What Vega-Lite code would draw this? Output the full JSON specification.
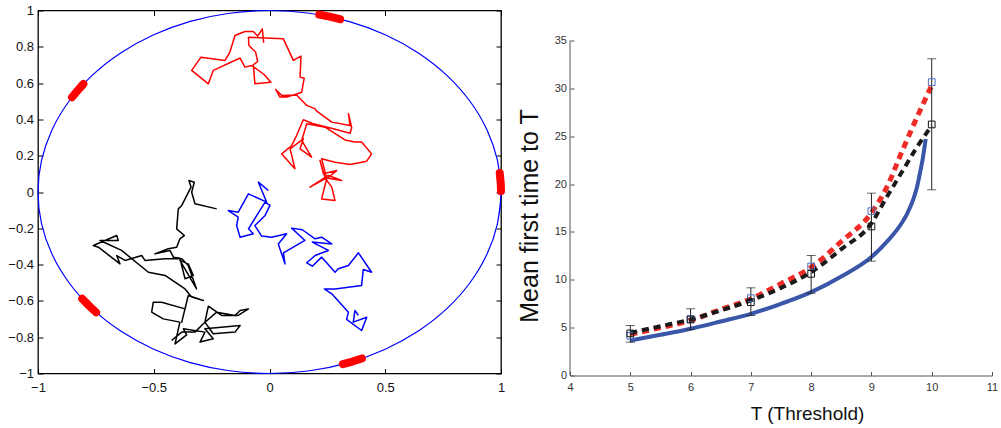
{
  "$schema": "https://vega.github.io/schema/vega-lite/v6.json",
  "background": "white",
  "padding": {"left": 7, "top": 3.5, "right": 3, "bottom": 3},
  "spacing": 11,
  "config": {"font": "Liberation Sans", "view": {"stroke": null}, "axis": {"minExtent": 0}},
  "datasets": {
    "circle": [
      {"a": -10, "x": 0.9848, "y": -0.1736}, {"a": 0, "x": 1, "y": 0}, {"a": 10, "x": 0.9848, "y": 0.1736},
      {"a": 20, "x": 0.9397, "y": 0.342}, {"a": 30, "x": 0.866, "y": 0.5}, {"a": 40, "x": 0.766, "y": 0.6428},
      {"a": 50, "x": 0.6428, "y": 0.766}, {"a": 60, "x": 0.5, "y": 0.866}, {"a": 70, "x": 0.342, "y": 0.9397},
      {"a": 80, "x": 0.1736, "y": 0.9848}, {"a": 90, "x": 0, "y": 1}, {"a": 100, "x": -0.1736, "y": 0.9848},
      {"a": 110, "x": -0.342, "y": 0.9397}, {"a": 120, "x": -0.5, "y": 0.866}, {"a": 130, "x": -0.6428, "y": 0.766},
      {"a": 140, "x": -0.766, "y": 0.6428}, {"a": 150, "x": -0.866, "y": 0.5}, {"a": 160, "x": -0.9397, "y": 0.342},
      {"a": 170, "x": -0.9848, "y": 0.1736}, {"a": 180, "x": -1, "y": 0}, {"a": 190, "x": -0.9848, "y": -0.1736},
      {"a": 200, "x": -0.9397, "y": -0.342}, {"a": 210, "x": -0.866, "y": -0.5}, {"a": 220, "x": -0.766, "y": -0.6428},
      {"a": 230, "x": -0.6428, "y": -0.766}, {"a": 240, "x": -0.5, "y": -0.866}, {"a": 250, "x": -0.342, "y": -0.9397},
      {"a": 260, "x": -0.1736, "y": -0.9848}, {"a": 270, "x": 0, "y": -1}, {"a": 280, "x": 0.1736, "y": -0.9848},
      {"a": 290, "x": 0.342, "y": -0.9397}, {"a": 300, "x": 0.5, "y": -0.866}, {"a": 310, "x": 0.6428, "y": -0.766},
      {"a": 320, "x": 0.766, "y": -0.6428}, {"a": 330, "x": 0.866, "y": -0.5}, {"a": 340, "x": 0.9397, "y": -0.342},
      {"a": 350, "x": 0.9848, "y": -0.1736}, {"a": 360, "x": 1, "y": 0}, {"a": 370, "x": 0.9848, "y": 0.1736}
    ],
    "arcs": [
      {"seg": "A", "o": 1, "x": 0.215, "y": 0.977}, {"seg": "A", "o": 2, "x": 0.259, "y": 0.966}, {"seg": "A", "o": 3, "x": 0.305, "y": 0.952},
      {"seg": "B", "o": 1, "x": -0.853, "y": 0.522}, {"seg": "B", "o": 2, "x": -0.829, "y": 0.559}, {"seg": "B", "o": 3, "x": -0.804, "y": 0.595},
      {"seg": "C", "o": 1, "x": 0.9945, "y": 0.1045}, {"seg": "C", "o": 2, "x": 0.9988, "y": 0.05}, {"seg": "C", "o": 3, "x": 1.0, "y": 0.005},
      {"seg": "D", "o": 1, "x": -0.809, "y": -0.588}, {"seg": "D", "o": 2, "x": -0.78, "y": -0.626}, {"seg": "D", "o": 3, "x": -0.749, "y": -0.663},
      {"seg": "E", "o": 1, "x": 0.317, "y": -0.948}, {"seg": "E", "o": 2, "x": 0.358, "y": -0.934}, {"seg": "E", "o": 3, "x": 0.399, "y": -0.917}
    ],
    "walks": [
      {"walk": "red", "i": 1, "x": -0.025, "y": 0.822}, {"walk": "red", "i": 2, "x": -0.031, "y": 0.899},
      {"walk": "red", "i": 3, "x": -0.051, "y": 0.859}, {"walk": "red", "i": 4, "x": -0.07, "y": 0.884},
      {"walk": "red", "i": 5, "x": -0.106, "y": 0.884}, {"walk": "red", "i": 6, "x": -0.149, "y": 0.862},
      {"walk": "red", "i": 7, "x": -0.171, "y": 0.771}, {"walk": "red", "i": 8, "x": -0.192, "y": 0.725},
      {"walk": "red", "i": 9, "x": -0.296, "y": 0.743}, {"walk": "red", "i": 10, "x": -0.336, "y": 0.67},
      {"walk": "red", "i": 11, "x": -0.264, "y": 0.596}, {"walk": "red", "i": 12, "x": -0.243, "y": 0.67},
      {"walk": "red", "i": 13, "x": -0.127, "y": 0.738}, {"walk": "red", "i": 14, "x": -0.106, "y": 0.688},
      {"walk": "red", "i": 15, "x": -0.077, "y": 0.697}, {"walk": "red", "i": 16, "x": -0.022, "y": 0.646},
      {"walk": "red", "i": 17, "x": 0.006, "y": 0.605}, {"walk": "red", "i": 18, "x": -0.063, "y": 0.596},
      {"walk": "red", "i": 19, "x": -0.07, "y": 0.701}, {"walk": "red", "i": 20, "x": -0.051, "y": 0.719},
      {"walk": "red", "i": 21, "x": -0.06, "y": 0.771}, {"walk": "red", "i": 22, "x": -0.089, "y": 0.807},
      {"walk": "red", "i": 23, "x": -0.091, "y": 0.853}, {"walk": "red", "i": 24, "x": 0.06, "y": 0.844},
      {"walk": "red", "i": 25, "x": 0.103, "y": 0.725}, {"walk": "red", "i": 26, "x": 0.136, "y": 0.749},
      {"walk": "red", "i": 27, "x": 0.132, "y": 0.633}, {"walk": "red", "i": 28, "x": 0.15, "y": 0.627},
      {"walk": "red", "i": 29, "x": 0.139, "y": 0.55}, {"walk": "red", "i": 30, "x": 0.11, "y": 0.537},
      {"walk": "red", "i": 31, "x": 0.074, "y": 0.523}, {"walk": "red", "i": 32, "x": 0.045, "y": 0.523},
      {"walk": "red", "i": 33, "x": 0.027, "y": 0.565}, {"walk": "red", "i": 34, "x": 0.053, "y": 0.532},
      {"walk": "red", "i": 35, "x": 0.117, "y": 0.535}, {"walk": "red", "i": 36, "x": 0.161, "y": 0.477},
      {"walk": "red", "i": 37, "x": 0.197, "y": 0.458}, {"walk": "red", "i": 38, "x": 0.204, "y": 0.445},
      {"walk": "red", "i": 39, "x": 0.269, "y": 0.385}, {"walk": "red", "i": 40, "x": 0.348, "y": 0.366},
      {"walk": "red", "i": 41, "x": 0.341, "y": 0.431}, {"walk": "red", "i": 42, "x": 0.355, "y": 0.354},
      {"walk": "red", "i": 43, "x": 0.348, "y": 0.324}, {"walk": "red", "i": 44, "x": 0.276, "y": 0.348},
      {"walk": "red", "i": 45, "x": 0.189, "y": 0.376}, {"walk": "red", "i": 46, "x": 0.146, "y": 0.398},
      {"walk": "red", "i": 47, "x": 0.117, "y": 0.311}, {"walk": "red", "i": 48, "x": 0.096, "y": 0.256},
      {"walk": "red", "i": 49, "x": 0.053, "y": 0.21}, {"walk": "red", "i": 50, "x": 0.11, "y": 0.128},
      {"walk": "red", "i": 51, "x": 0.089, "y": 0.238}, {"walk": "red", "i": 52, "x": 0.146, "y": 0.293},
      {"walk": "red", "i": 53, "x": 0.132, "y": 0.238}, {"walk": "red", "i": 54, "x": 0.182, "y": 0.192},
      {"walk": "red", "i": 55, "x": 0.139, "y": 0.284}, {"walk": "red", "i": 56, "x": 0.161, "y": 0.376},
      {"walk": "red", "i": 57, "x": 0.24, "y": 0.357}, {"walk": "red", "i": 58, "x": 0.326, "y": 0.287},
      {"walk": "red", "i": 59, "x": 0.369, "y": 0.275}, {"walk": "red", "i": 60, "x": 0.398, "y": 0.275},
      {"walk": "red", "i": 61, "x": 0.441, "y": 0.21}, {"walk": "red", "i": 62, "x": 0.42, "y": 0.17},
      {"walk": "red", "i": 63, "x": 0.348, "y": 0.152}, {"walk": "red", "i": 64, "x": 0.283, "y": 0.164},
      {"walk": "red", "i": 65, "x": 0.225, "y": 0.183}, {"walk": "red", "i": 66, "x": 0.247, "y": 0.078},
      {"walk": "red", "i": 67, "x": 0.175, "y": 0.027}, {"walk": "red", "i": 68, "x": 0.254, "y": 0.091},
      {"walk": "red", "i": 69, "x": 0.312, "y": 0.063}, {"walk": "red", "i": 70, "x": 0.24, "y": 0.078},
      {"walk": "red", "i": 71, "x": 0.218, "y": 0.174}, {"walk": "red", "i": 72, "x": 0.233, "y": 0.1},
      {"walk": "red", "i": 73, "x": 0.29, "y": 0.118}, {"walk": "red", "i": 74, "x": 0.247, "y": 0.073},
      {"walk": "red", "i": 75, "x": 0.225, "y": -0.038}, {"walk": "red", "i": 76, "x": 0.283, "y": -0.047},
      {"walk": "red", "i": 77, "x": 0.269, "y": 0.027}, {"walk": "red", "i": 78, "x": 0.24, "y": 0.078},

      {"walk": "black", "i": 1, "x": -0.228, "y": -0.093}, {"walk": "black", "i": 2, "x": -0.322, "y": -0.065},
      {"walk": "black", "i": 3, "x": -0.336, "y": -0.001}, {"walk": "black", "i": 4, "x": -0.325, "y": 0.054},
      {"walk": "black", "i": 5, "x": -0.348, "y": 0.063}, {"walk": "black", "i": 6, "x": -0.339, "y": 0.027},
      {"walk": "black", "i": 7, "x": -0.379, "y": -0.074}, {"walk": "black", "i": 8, "x": -0.394, "y": -0.093},
      {"walk": "black", "i": 9, "x": -0.401, "y": -0.203}, {"walk": "black", "i": 10, "x": -0.368, "y": -0.24},
      {"walk": "black", "i": 11, "x": -0.387, "y": -0.258}, {"walk": "black", "i": 12, "x": -0.401, "y": -0.304},
      {"walk": "black", "i": 13, "x": -0.437, "y": -0.313}, {"walk": "black", "i": 14, "x": -0.495, "y": -0.341},
      {"walk": "black", "i": 15, "x": -0.43, "y": -0.322}, {"walk": "black", "i": 16, "x": -0.415, "y": -0.359},
      {"walk": "black", "i": 17, "x": -0.387, "y": -0.365}, {"walk": "black", "i": 18, "x": -0.365, "y": -0.478},
      {"walk": "black", "i": 19, "x": -0.329, "y": -0.46}, {"walk": "black", "i": 20, "x": -0.351, "y": -0.396},
      {"walk": "black", "i": 21, "x": -0.387, "y": -0.377}, {"walk": "black", "i": 22, "x": -0.315, "y": -0.534},
      {"walk": "black", "i": 23, "x": -0.351, "y": -0.405}, {"walk": "black", "i": 24, "x": -0.379, "y": -0.368},
      {"walk": "black", "i": 25, "x": -0.451, "y": -0.368}, {"walk": "black", "i": 26, "x": -0.538, "y": -0.377},
      {"walk": "black", "i": 27, "x": -0.552, "y": -0.35}, {"walk": "black", "i": 28, "x": -0.624, "y": -0.377},
      {"walk": "black", "i": 29, "x": -0.66, "y": -0.35}, {"walk": "black", "i": 30, "x": -0.646, "y": -0.396},
      {"walk": "black", "i": 31, "x": -0.739, "y": -0.304}, {"walk": "black", "i": 32, "x": -0.761, "y": -0.295},
      {"walk": "black", "i": 33, "x": -0.66, "y": -0.24}, {"walk": "black", "i": 34, "x": -0.653, "y": -0.267},
      {"walk": "black", "i": 35, "x": -0.732, "y": -0.267}, {"walk": "black", "i": 36, "x": -0.639, "y": -0.322},
      {"walk": "black", "i": 37, "x": -0.523, "y": -0.442}, {"walk": "black", "i": 38, "x": -0.451, "y": -0.46},
      {"walk": "black", "i": 39, "x": -0.365, "y": -0.534}, {"walk": "black", "i": 40, "x": -0.336, "y": -0.579},
      {"walk": "black", "i": 41, "x": -0.286, "y": -0.598}, {"walk": "black", "i": 42, "x": -0.351, "y": -0.57},
      {"walk": "black", "i": 43, "x": -0.379, "y": -0.717}, {"walk": "black", "i": 44, "x": -0.365, "y": -0.644},
      {"walk": "black", "i": 45, "x": -0.466, "y": -0.607}, {"walk": "black", "i": 46, "x": -0.502, "y": -0.607},
      {"walk": "black", "i": 47, "x": -0.509, "y": -0.662}, {"walk": "black", "i": 48, "x": -0.459, "y": -0.699},
      {"walk": "black", "i": 49, "x": -0.387, "y": -0.717}, {"walk": "black", "i": 50, "x": -0.408, "y": -0.837},
      {"walk": "black", "i": 51, "x": -0.358, "y": -0.787}, {"walk": "black", "i": 52, "x": -0.372, "y": -0.754},
      {"walk": "black", "i": 53, "x": -0.279, "y": -0.772}, {"walk": "black", "i": 54, "x": -0.3, "y": -0.827},
      {"walk": "black", "i": 55, "x": -0.243, "y": -0.809}, {"walk": "black", "i": 56, "x": -0.279, "y": -0.754},
      {"walk": "black", "i": 57, "x": -0.127, "y": -0.736}, {"walk": "black", "i": 58, "x": -0.149, "y": -0.772},
      {"walk": "black", "i": 59, "x": -0.243, "y": -0.781}, {"walk": "black", "i": 60, "x": -0.279, "y": -0.717},
      {"walk": "black", "i": 61, "x": -0.264, "y": -0.629}, {"walk": "black", "i": 62, "x": -0.207, "y": -0.68},
      {"walk": "black", "i": 63, "x": -0.135, "y": -0.68}, {"walk": "black", "i": 64, "x": -0.091, "y": -0.644},
      {"walk": "black", "i": 65, "x": -0.127, "y": -0.653}, {"walk": "black", "i": 66, "x": -0.149, "y": -0.68},
      {"walk": "black", "i": 67, "x": -0.228, "y": -0.662}, {"walk": "black", "i": 68, "x": -0.286, "y": -0.726},
      {"walk": "black", "i": 69, "x": -0.322, "y": -0.772}, {"walk": "black", "i": 70, "x": -0.379, "y": -0.772},
      {"walk": "black", "i": 71, "x": -0.423, "y": -0.818},

      {"walk": "blue", "i": 1, "x": -0.005, "y": 0.008}, {"walk": "blue", "i": 2, "x": -0.048, "y": 0.054},
      {"walk": "blue", "i": 3, "x": -0.012, "y": -0.056}, {"walk": "blue", "i": 4, "x": -0.091, "y": -0.01},
      {"walk": "blue", "i": 5, "x": -0.135, "y": -0.111}, {"walk": "blue", "i": 6, "x": -0.178, "y": -0.102},
      {"walk": "blue", "i": 7, "x": -0.135, "y": -0.139}, {"walk": "blue", "i": 8, "x": -0.142, "y": -0.185},
      {"walk": "blue", "i": 9, "x": -0.127, "y": -0.249}, {"walk": "blue", "i": 10, "x": -0.07, "y": -0.23},
      {"walk": "blue", "i": 11, "x": -0.091, "y": -0.203}, {"walk": "blue", "i": 12, "x": -0.019, "y": -0.056},
      {"walk": "blue", "i": 13, "x": 0.002, "y": -0.074}, {"walk": "blue", "i": 14, "x": -0.019, "y": -0.129},
      {"walk": "blue", "i": 15, "x": -0.063, "y": -0.185}, {"walk": "blue", "i": 16, "x": -0.034, "y": -0.243},
      {"walk": "blue", "i": 17, "x": 0.009, "y": -0.249}, {"walk": "blue", "i": 18, "x": 0.074, "y": -0.23},
      {"walk": "blue", "i": 19, "x": 0.038, "y": -0.286}, {"walk": "blue", "i": 20, "x": 0.067, "y": -0.396},
      {"walk": "blue", "i": 21, "x": 0.06, "y": -0.335}, {"walk": "blue", "i": 22, "x": 0.153, "y": -0.267},
      {"walk": "blue", "i": 23, "x": 0.096, "y": -0.199}, {"walk": "blue", "i": 24, "x": 0.142, "y": -0.208},
      {"walk": "blue", "i": 25, "x": 0.197, "y": -0.258}, {"walk": "blue", "i": 26, "x": 0.225, "y": -0.249},
      {"walk": "blue", "i": 27, "x": 0.269, "y": -0.286}, {"walk": "blue", "i": 28, "x": 0.185, "y": -0.276},
      {"walk": "blue", "i": 29, "x": 0.254, "y": -0.322}, {"walk": "blue", "i": 30, "x": 0.197, "y": -0.35},
      {"walk": "blue", "i": 31, "x": 0.161, "y": -0.39}, {"walk": "blue", "i": 32, "x": 0.185, "y": -0.409},
      {"walk": "blue", "i": 33, "x": 0.225, "y": -0.359}, {"walk": "blue", "i": 34, "x": 0.247, "y": -0.39},
      {"walk": "blue", "i": 35, "x": 0.283, "y": -0.442}, {"walk": "blue", "i": 36, "x": 0.297, "y": -0.423},
      {"walk": "blue", "i": 37, "x": 0.341, "y": -0.405}, {"walk": "blue", "i": 38, "x": 0.384, "y": -0.335},
      {"walk": "blue", "i": 39, "x": 0.441, "y": -0.442}, {"walk": "blue", "i": 40, "x": 0.405, "y": -0.427},
      {"walk": "blue", "i": 41, "x": 0.398, "y": -0.515}, {"walk": "blue", "i": 42, "x": 0.283, "y": -0.534},
      {"walk": "blue", "i": 43, "x": 0.237, "y": -0.534}, {"walk": "blue", "i": 44, "x": 0.269, "y": -0.561},
      {"walk": "blue", "i": 45, "x": 0.341, "y": -0.662}, {"walk": "blue", "i": 46, "x": 0.333, "y": -0.702},
      {"walk": "blue", "i": 47, "x": 0.398, "y": -0.763}, {"walk": "blue", "i": 48, "x": 0.42, "y": -0.69},
      {"walk": "blue", "i": 49, "x": 0.362, "y": -0.717}, {"walk": "blue", "i": 50, "x": 0.369, "y": -0.653},
      {"walk": "blue", "i": 51, "x": 0.384, "y": -0.68}
    ],
    "curves": [
      {"s": "theory", "T": 5, "y": 3.66}, {"s": "theory", "T": 5.5, "y": 4.25}, {"s": "theory", "T": 6, "y": 4.88},
      {"s": "theory", "T": 6.5, "y": 5.64}, {"s": "theory", "T": 7, "y": 6.44}, {"s": "theory", "T": 7.5, "y": 7.49},
      {"s": "theory", "T": 8, "y": 8.71}, {"s": "theory", "T": 8.5, "y": 10.34}, {"s": "theory", "T": 9, "y": 12.37},
      {"s": "theory", "T": 9.25, "y": 13.93}, {"s": "theory", "T": 9.5, "y": 15.9}, {"s": "theory", "T": 9.6, "y": 17.0},
      {"s": "theory", "T": 9.7, "y": 18.5}, {"s": "theory", "T": 9.76, "y": 19.8}, {"s": "theory", "T": 9.81, "y": 21.3},
      {"s": "theory", "T": 9.85, "y": 22.6}, {"s": "theory", "T": 9.9, "y": 24.7},
      {"s": "red", "T": 5, "y": 4.3}, {"s": "red", "T": 5.5, "y": 5.0}, {"s": "red", "T": 6, "y": 5.75},
      {"s": "red", "T": 6.5, "y": 6.9}, {"s": "red", "T": 7, "y": 8.0}, {"s": "red", "T": 7.5, "y": 9.6},
      {"s": "red", "T": 8, "y": 11.3}, {"s": "red", "T": 8.5, "y": 14.0}, {"s": "red", "T": 9, "y": 17.0},
      {"s": "red", "T": 9.25, "y": 19.6}, {"s": "red", "T": 9.5, "y": 23.3}, {"s": "red", "T": 9.75, "y": 26.9},
      {"s": "red", "T": 10, "y": 30.3},
      {"s": "black", "T": 5, "y": 4.45}, {"s": "black", "T": 5.5, "y": 5.15}, {"s": "black", "T": 6, "y": 5.85},
      {"s": "black", "T": 6.5, "y": 6.8}, {"s": "black", "T": 7, "y": 7.84}, {"s": "black", "T": 7.5, "y": 9.16},
      {"s": "black", "T": 8, "y": 10.8}, {"s": "black", "T": 8.5, "y": 13.2}, {"s": "black", "T": 9, "y": 15.9},
      {"s": "black", "T": 9.25, "y": 18.6}, {"s": "black", "T": 9.5, "y": 21.2}, {"s": "black", "T": 9.75, "y": 23.8},
      {"s": "black", "T": 10, "y": 26.1}
    ],
    "squares": [
      {"sim": "sim1", "T": 5, "y": 4.15}, {"sim": "sim1", "T": 6, "y": 5.9}, {"sim": "sim1", "T": 7, "y": 8.08},
      {"sim": "sim1", "T": 8, "y": 11.39}, {"sim": "sim1", "T": 9, "y": 17.17}, {"sim": "sim1", "T": 10, "y": 30.65},
      {"sim": "sim2", "T": 5, "y": 4.4}, {"sim": "sim2", "T": 6, "y": 5.85}, {"sim": "sim2", "T": 7, "y": 7.66},
      {"sim": "sim2", "T": 8, "y": 10.62}, {"sim": "sim2", "T": 9, "y": 15.57}, {"sim": "sim2", "T": 10, "y": 26.23}
    ],
    "bars": [
      {"T": 5, "lo": 3.48, "hi": 5.22}, {"T": 6, "lo": 4.81, "hi": 6.97}, {"T": 7, "lo": 6.27, "hi": 9.16},
      {"T": 8, "lo": 8.6, "hi": 12.54}, {"T": 9, "lo": 11.95, "hi": 19.05}, {"T": 10, "lo": 19.4, "hi": 33.09}
    ],
    "yaxisline": [{"T": 4, "lo": 0, "hi": 35}]
  },
  "hconcat": [
    {
      "width": 463,
      "height": 363,
      "view": {"stroke": "#000000", "strokeWidth": 1.3},
      "layer": [
        {
          "data": {"name": "circle"},
          "mark": {"type": "line", "color": "#0000ff", "strokeWidth": 1.2, "strokeJoin": "round", "interpolate": "catmull-rom", "clip": false},
          "encoding": {
            "x": {"field": "x", "type": "quantitative", "scale": {"domain": [-1, 1], "nice": false, "zero": false},
              "axis": {"orient": "bottom", "values": [-1, -0.5, 0, 0.5, 1], "format": "~g", "title": null, "domain": false, "grid": false,
                "tickSize": -5, "tickColor": "#000000", "labelPadding": 13, "labelFontSize": 13, "labelColor": "#111111", "labelFlush": false, "labelOverlap": false}},
            "y": {"field": "y", "type": "quantitative", "scale": {"domain": [-1, 1], "nice": false, "zero": false},
              "axis": {"orient": "left", "values": [-1, -0.8, -0.6, -0.4, -0.2, 0, 0.2, 0.4, 0.6, 0.8, 1], "format": "~g", "title": null, "domain": false, "grid": false,
                "tickSize": -5, "tickColor": "#000000", "labelPadding": 9.5, "labelFontSize": 13, "labelColor": "#111111", "labelFlush": false, "labelOverlap": false}},
            "order": {"field": "a", "type": "quantitative"}
          }
        },
        {
          "data": {"name": "walks"},
          "mark": {"type": "line", "strokeWidth": 1.5, "strokeJoin": "round"},
          "encoding": {
            "x": {"field": "x", "type": "quantitative",
              "axis": {"orient": "top", "values": [-1, -0.5, 0, 0.5, 1], "labels": false, "title": null, "domain": false, "grid": false, "tickSize": -5, "tickColor": "#000000", "minExtent": 0}},
            "y": {"field": "y", "type": "quantitative",
              "axis": {"orient": "right", "values": [-1, -0.8, -0.6, -0.4, -0.2, 0, 0.2, 0.4, 0.6, 0.8, 1], "labels": false, "title": null, "domain": false, "grid": false, "tickSize": -5, "tickColor": "#000000", "minExtent": 0}},
            "color": {"field": "walk", "type": "nominal", "scale": {"domain": ["red", "blue", "black"], "range": ["#ff0000", "#0000ff", "#000000"]}, "legend": null},
            "order": {"field": "i", "type": "quantitative"}
          }
        },
        {
          "data": {"name": "arcs"},
          "mark": {"type": "line", "color": "#ff0000", "strokeWidth": 8, "strokeCap": "round", "strokeJoin": "round", "clip": false},
          "encoding": {
            "x": {"field": "x", "type": "quantitative", "axis": null},
            "y": {"field": "y", "type": "quantitative", "axis": null},
            "detail": {"field": "seg", "type": "nominal"},
            "order": {"field": "o", "type": "quantitative"}
          }
        }
      ]
    },
    {
      "width": 422,
      "height": 365,
      "layer": [
        {
          "data": {"name": "curves"},
          "transform": [{"filter": "datum.s === 'theory'"}],
          "mark": {"type": "line", "color": "#3a56a8", "strokeWidth": 4, "strokeJoin": "round", "interpolate": "monotone"},
          "encoding": {
            "x": {"field": "T", "type": "quantitative", "scale": {"domain": [4, 11], "nice": false, "zero": false},
              "axis": {"values": [4, 5, 6, 7, 8, 9, 10, 11], "format": "~g", "title": "T (Threshold)", "titleFontSize": 19, "titleFontWeight": "normal", "titleColor": "#111111",
                "titleX": 237, "titlePadding": 12, "grid": false, "tickSize": -4, "labelPadding": 10, "labelFontSize": 11, "labelColor": "#333333",
                "domainColor": "#555555", "tickColor": "#555555", "labelFlush": false, "labelOverlap": false}},
            "y": {"field": "y", "type": "quantitative", "scale": {"domain": [0, 38.134], "nice": false, "zero": true},
              "axis": {"values": [0, 5, 10, 15, 20, 25, 30, 35], "format": "~g", "title": "Mean first time to T", "titleFontSize": 25, "titleFontWeight": "normal", "titleColor": "#111111",
                "titlePadding": 12, "titleY": 205, "grid": false, "domain": false, "tickSize": -4, "labelPadding": 7.5, "labelFontSize": 11, "labelColor": "#333333",
                "tickColor": "#555555", "labelFlush": false, "labelOverlap": false}}
          }
        },
        {
          "data": {"name": "yaxisline"},
          "mark": {"type": "rule", "color": "#555555", "strokeWidth": 1},
          "encoding": {
            "x": {"field": "T", "type": "quantitative"},
            "y": {"field": "lo", "type": "quantitative"},
            "y2": {"field": "hi"}
          }
        },
        {
          "data": {"name": "curves"},
          "transform": [{"filter": "datum.s === 'red'"}],
          "mark": {"type": "line", "color": "#ee2b24", "strokeWidth": 5, "strokeDash": [7, 5], "strokeJoin": "round", "interpolate": "monotone"},
          "encoding": {
            "x": {"field": "T", "type": "quantitative"},
            "y": {"field": "y", "type": "quantitative"}
          }
        },
        {
          "data": {"name": "curves"},
          "transform": [{"filter": "datum.s === 'black'"}],
          "mark": {"type": "line", "color": "#1a1a1a", "strokeWidth": 4, "strokeDash": [7, 5], "strokeJoin": "round", "interpolate": "monotone"},
          "encoding": {
            "x": {"field": "T", "type": "quantitative"},
            "y": {"field": "y", "type": "quantitative"}
          }
        },
        {
          "data": {"name": "bars"},
          "mark": {"type": "rule", "color": "#222222", "strokeWidth": 1},
          "encoding": {
            "x": {"field": "T", "type": "quantitative"},
            "y": {"field": "lo", "type": "quantitative"},
            "y2": {"field": "hi"}
          }
        },
        {
          "data": {"name": "bars"},
          "mark": {"type": "tick", "orient": "horizontal", "color": "#222222", "size": 9, "thickness": 1},
          "encoding": {
            "x": {"field": "T", "type": "quantitative"},
            "y": {"field": "lo", "type": "quantitative"}
          }
        },
        {
          "data": {"name": "bars"},
          "mark": {"type": "tick", "orient": "horizontal", "color": "#222222", "size": 9, "thickness": 1},
          "encoding": {
            "x": {"field": "T", "type": "quantitative"},
            "y": {"field": "hi", "type": "quantitative"}
          }
        },
        {
          "data": {"name": "squares"},
          "transform": [{"filter": "datum.sim === 'sim1'"}],
          "mark": {"type": "point", "shape": "square", "filled": false, "size": 45, "strokeWidth": 1, "opacity": 1, "color": "#4a6cc4"},
          "encoding": {
            "x": {"field": "T", "type": "quantitative"},
            "y": {"field": "y", "type": "quantitative"}
          }
        },
        {
          "data": {"name": "squares"},
          "transform": [{"filter": "datum.sim === 'sim2'"}],
          "mark": {"type": "point", "shape": "square", "filled": false, "size": 45, "strokeWidth": 1, "opacity": 1, "color": "#111111"},
          "encoding": {
            "x": {"field": "T", "type": "quantitative"},
            "y": {"field": "y", "type": "quantitative"}
          }
        }
      ]
    }
  ]
}
